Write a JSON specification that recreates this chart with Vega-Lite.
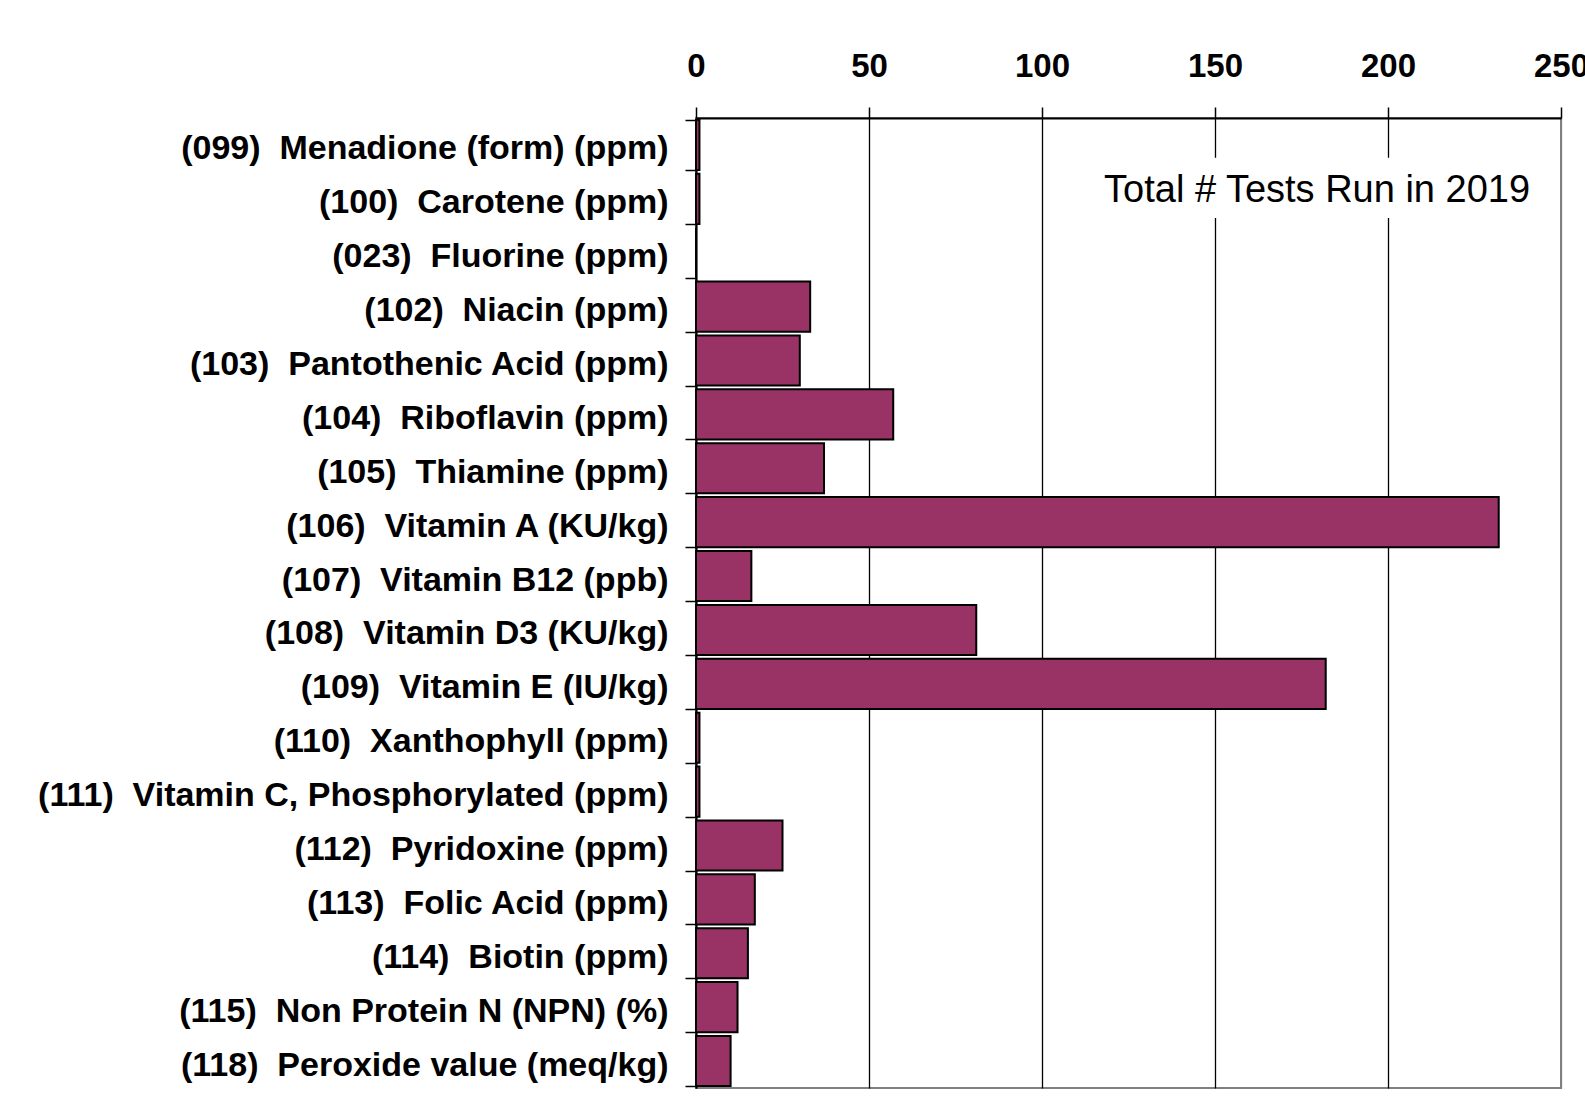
{
  "$schema": "https://vega.github.io/schema/vega-lite/v6.json",
  "width": 865,
  "height": 970,
  "autosize": {"type": "none"},
  "padding": {"left": 696, "top": 118, "right": 24, "bottom": 15},
  "background": "white",
  "config": {
    "view": {"stroke": "#808080", "strokeWidth": 2},
    "font": "Liberation Sans"
  },
  "encoding": {
    "y": {
      "field": "test",
      "type": "nominal",
      "sort": null,
      "scale": {
        "domain": [
          "(099)\u00a0 Menadione (form) (ppm)",
          "(100)\u00a0 Carotene (ppm)",
          "(023)\u00a0 Fluorine (ppm)",
          "(102)\u00a0 Niacin (ppm)",
          "(103)\u00a0 Pantothenic Acid (ppm)",
          "(104)\u00a0 Riboflavin (ppm)",
          "(105)\u00a0 Thiamine (ppm)",
          "(106)\u00a0 Vitamin A (KU/kg)",
          "(107)\u00a0 Vitamin B12 (ppb)",
          "(108)\u00a0 Vitamin D3 (KU/kg)",
          "(109)\u00a0 Vitamin E (IU/kg)",
          "(110)\u00a0 Xanthophyll (ppm)",
          "(111)\u00a0 Vitamin C, Phosphorylated (ppm)",
          "(112)\u00a0 Pyridoxine (ppm)",
          "(113)\u00a0 Folic Acid (ppm)",
          "(114)\u00a0 Biotin (ppm)",
          "(115)\u00a0 Non Protein N (NPN) (%)",
          "(118)\u00a0 Peroxide value (meq/kg)"
        ],
        "paddingInner": 0.07,
        "paddingOuter": 0.035
      },
      "axis": {
        "title": null,
        "domainColor": "black",
        "domainWidth": 2,
        "ticks": true,
        "tickBand": "extent",
        "tickColor": "black",
        "tickSize": 11,
        "tickWidth": 1.5,
        "labelFont": "Liberation Sans",
        "labelFontWeight": "bold",
        "labelFontSize": 34,
        "labelColor": "black",
        "labelPadding": 17,
        "labelOffset": 4,
        "labelLimit": 0
      }
    }
  },
  "layer": [
    {
      "data": {
        "values": [
          {"test": "(099)\u00a0 Menadione (form) (ppm)", "count": 1},
          {"test": "(100)\u00a0 Carotene (ppm)", "count": 1},
          {"test": "(023)\u00a0 Fluorine (ppm)", "count": 0},
          {"test": "(102)\u00a0 Niacin (ppm)", "count": 33},
          {"test": "(103)\u00a0 Pantothenic Acid (ppm)", "count": 30},
          {"test": "(104)\u00a0 Riboflavin (ppm)", "count": 57},
          {"test": "(105)\u00a0 Thiamine (ppm)", "count": 37},
          {"test": "(106)\u00a0 Vitamin A (KU/kg)", "count": 232},
          {"test": "(107)\u00a0 Vitamin B12 (ppb)", "count": 16},
          {"test": "(108)\u00a0 Vitamin D3 (KU/kg)", "count": 81},
          {"test": "(109)\u00a0 Vitamin E (IU/kg)", "count": 182},
          {"test": "(110)\u00a0 Xanthophyll (ppm)", "count": 1},
          {"test": "(111)\u00a0 Vitamin C, Phosphorylated (ppm)", "count": 1},
          {"test": "(112)\u00a0 Pyridoxine (ppm)", "count": 25},
          {"test": "(113)\u00a0 Folic Acid (ppm)", "count": 17},
          {"test": "(114)\u00a0 Biotin (ppm)", "count": 15},
          {"test": "(115)\u00a0 Non Protein N (NPN) (%)", "count": 12},
          {"test": "(118)\u00a0 Peroxide value (meq/kg)", "count": 10}
        ]
      },
      "mark": {"type": "bar", "fill": "#993366", "stroke": "black", "strokeWidth": 2},
      "encoding": {
        "x": {
          "field": "count",
          "type": "quantitative",
          "scale": {"domain": [0, 250], "nice": false},
          "axis": {
            "orient": "top",
            "title": null,
            "values": [0, 50, 100, 150, 200, 250],
            "grid": true,
            "gridColor": {"condition": {"test": "datum.value == 250", "value": "#808080"}, "value": "black"},
            "gridWidth": 1.3,
            "gridOpacity": 1,
            "domainColor": "black",
            "domainWidth": 2,
            "tickColor": "black",
            "tickSize": 11,
            "tickWidth": 1.5,
            "labelFont": "Liberation Sans",
            "labelFontWeight": "bold",
            "labelFontSize": 33,
            "labelColor": "black",
            "labelPadding": 24,
            "labelFlush": false,
            "labelOverlap": false,
            "labelBound": false
          }
        }
      }
    },
    {
      "data": {
        "values": [
          {"test": "(100)\u00a0 Carotene (ppm)", "from": 118, "to": 242, "at": 179.5, "note": "Total # Tests Run in 2019"}
        ]
      },
      "layer": [
        {
          "mark": {"type": "bar", "fill": "white", "strokeWidth": 0, "height": {"band": 1.2}, "yOffset": -11},
          "encoding": {
            "x": {"field": "from", "type": "quantitative"},
            "x2": {"field": "to"}
          }
        },
        {
          "mark": {"type": "text", "font": "Liberation Sans", "fontSize": 38, "color": "black", "align": "center", "baseline": "middle", "dy": -8},
          "encoding": {
            "x": {"field": "at", "type": "quantitative"},
            "text": {"field": "note"}
          }
        }
      ]
    }
  ]
}
